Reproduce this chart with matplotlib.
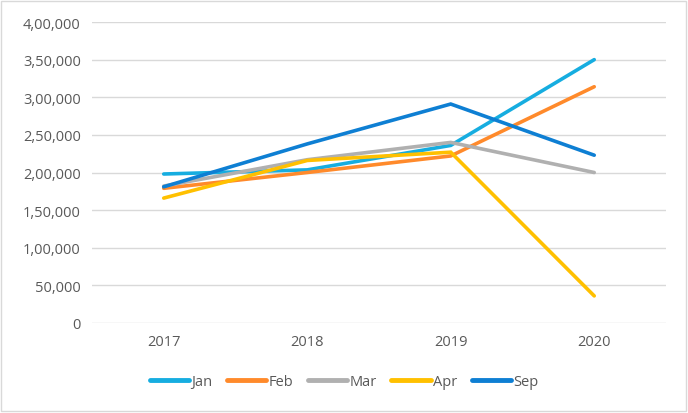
import matplotlib
matplotlib.use("Agg")
import matplotlib.pyplot as plt
from matplotlib.ticker import FuncFormatter
from matplotlib.patches import Rectangle

years = ['2017', '2018', '2019', '2020']
jan = [198000, 203500, 236000, 350000]
feb = [179000, 200000, 222000, 314000]
mar = [182000, 217000, 240000, 200000]
apr = [166000, 216000, 227000, 36000]
sep = [181000, 238000, 291000, 223000]

series = [('Jan', jan, '#16ADE0'), ('Feb', feb, '#FF8A2B'), ('Mar', mar, '#B0B0B0'),
          ('Apr', apr, '#FFC000'), ('Sep', sep, '#0E7FD3')]


def indian(v, pos):
    v = int(round(v))
    if v == 0:
        return '0'
    s = str(v)
    last3 = s[-3:]
    rest = s[:-3]
    parts = []
    while len(rest) > 2:
        parts.insert(0, rest[-2:])
        rest = rest[:-2]
    if rest:
        parts.insert(0, rest)
    return ','.join(parts + [last3])


plt.rcParams['font.family'] = ['Open Sans', 'DejaVu Sans']
fig = plt.figure(figsize=(6.88, 4.14), dpi=100)
ax = fig.add_axes([0.1337, 0.2174, 0.968 - 0.1337, 0.9444 - 0.2174])

x = list(range(len(years)))
for name, vals, col in series:
    ax.plot(x, vals, color=col, lw=2.6, label=name, solid_capstyle='round', solid_joinstyle='miter')

ax.set_xlim(-0.5, 3.5)
ax.set_ylim(0, 400000)
ax.set_yticks(range(0, 400001, 50000))
ax.yaxis.set_major_formatter(FuncFormatter(indian))
ax.set_xticks(x)
ax.set_xticklabels(years)
ax.grid(axis='y', color='#D9D9D9', lw=1)
ax.set_axisbelow(True)
for sp in ax.spines.values():
    sp.set_visible(False)
ax.tick_params(length=0, labelsize=10.5, labelcolor='#595959', pad=8)

leg = fig.legend(*ax.get_legend_handles_labels(), loc='center', bbox_to_anchor=(0.5, 0.075),
                 ncol=5, frameon=False, fontsize=10.5, handlelength=2.7,
                 handletextpad=0.15, columnspacing=1.0)
for t in leg.get_texts():
    t.set_color('#595959')
for h in leg.get_lines():
    h.set_linewidth(3.5)

fig.patches.append(Rectangle((0.002, 0.004), 0.995, 0.99, transform=fig.transFigure,
                             fill=False, edgecolor='#D9D9D9', lw=1))

fig.savefig('out.png', dpi=100)
